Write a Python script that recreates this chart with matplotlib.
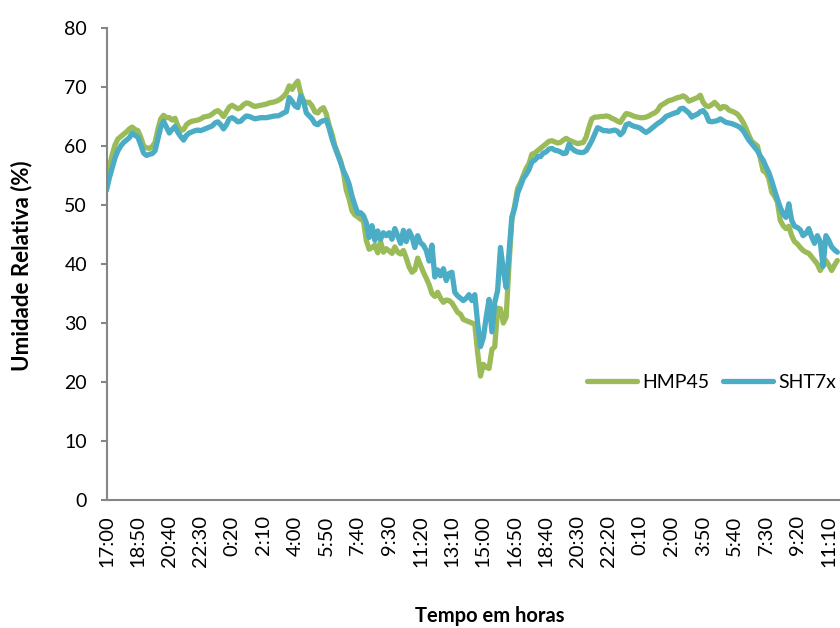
import matplotlib
matplotlib.use("Agg")
import matplotlib.pyplot as plt
import numpy as np

# readings every 10 min, starting 17:00
hmp45 = [
    54.0, 56.5, 58.5, 60.2, 61.2, 61.6, 62.0, 62.4, 62.9, 63.2, 62.8,
    62.6, 61.5, 60.0, 59.7, 59.6, 59.9, 60.6, 62.8, 64.6, 65.2, 64.8,
    64.8, 64.4, 64.7, 63.4, 62.6, 62.8, 63.6, 64.0, 64.2, 64.3, 64.4,
    64.6, 64.9, 65.0, 65.1, 65.4, 65.8, 66.0, 65.6, 65.0, 65.8, 66.6,
    66.9, 66.6, 66.3, 66.5, 67.0, 67.3, 67.2, 66.9, 66.7, 66.8, 66.9,
    67.0, 67.1, 67.3, 67.4, 67.5, 67.7, 68.0, 68.4, 69.0, 70.2, 69.6,
    70.4, 71.0, 69.0, 67.6, 67.4, 67.4, 66.8, 65.8, 65.6, 66.2, 66.5,
    65.4, 63.5, 62.0, 60.0, 58.8, 57.5, 55.5, 52.5, 51.0, 49.0, 48.3,
    48.0, 47.6, 47.3, 44.0, 42.5, 42.8, 43.2, 41.9, 43.8, 42.0, 42.6,
    42.2, 41.8, 42.9, 42.0, 41.7, 42.3, 41.0, 39.5, 38.6, 39.0, 41.0,
    39.8, 38.6, 37.6, 36.5, 35.0, 34.5, 35.2, 34.2, 33.5, 33.9, 33.8,
    33.4, 32.6, 31.8, 31.5, 30.6, 30.4, 30.2, 30.0, 29.8, 25.0, 21.0,
    23.0, 22.5, 22.3, 25.5, 26.0, 32.5, 32.4, 30.0, 31.0, 40.0, 47.5,
    50.0, 52.8, 53.8, 55.0, 56.2, 57.0, 58.6, 58.8, 59.2, 59.6, 60.0,
    60.4, 60.8, 60.9, 60.7, 60.5, 60.6, 61.0, 61.3, 61.0, 60.8, 60.6,
    60.4, 60.5, 60.6, 61.5, 63.2, 64.6, 64.9, 64.9, 65.0, 65.0, 65.1,
    65.0, 64.7, 64.5, 64.2, 64.0, 64.8, 65.5, 65.4, 65.2, 65.0, 64.9,
    64.8, 64.8, 64.9, 65.1, 65.4, 65.6, 66.0, 66.8, 67.1, 67.4, 67.7,
    67.8, 68.0, 68.2, 68.3, 68.5, 68.2, 67.6, 67.8, 68.0, 68.2, 68.6,
    67.4, 66.8, 66.7, 67.0, 67.4, 66.9, 66.3, 66.7, 66.6, 66.1, 65.9,
    65.7, 65.4, 64.8, 64.0, 63.0, 61.8, 60.8, 60.4, 60.0, 58.0, 55.8,
    55.5, 54.5, 52.2, 51.5, 50.5, 47.4, 46.5, 46.0, 46.4, 44.8, 43.8,
    43.4, 42.8, 42.3, 42.0, 41.8, 41.2, 40.6, 40.0, 38.9, 39.8, 40.6,
    39.8, 38.9, 39.8, 40.6,
]
sht7x = [
    52.5, 54.6, 56.3, 58.0, 59.2, 60.0, 60.6, 61.0, 61.4, 62.2, 61.8,
    61.5, 60.2, 58.8, 58.4, 58.6, 58.7, 59.2, 61.2, 63.2, 64.2, 63.2,
    62.2, 62.8, 63.3, 62.3, 61.6, 61.0, 61.8, 62.2, 62.4, 62.6, 62.7,
    62.6, 62.8, 63.0, 63.2, 63.4, 63.9, 64.1, 63.6, 62.9, 63.6, 64.6,
    64.8, 64.5, 64.1, 64.2, 64.7, 65.1, 65.0, 64.8, 64.6, 64.7, 64.8,
    64.8, 64.8, 64.9, 65.0, 65.1, 65.1, 65.3, 65.6, 65.8, 68.2, 67.6,
    66.8, 66.5, 68.5, 67.6, 65.6, 65.1, 64.6, 63.8, 63.6, 64.1, 64.3,
    64.4, 63.0, 61.2, 59.8, 58.5, 57.2, 55.8, 54.8, 53.5, 51.5, 50.0,
    48.6, 48.7, 48.2, 47.0, 44.5, 46.5, 44.0, 45.6, 44.2, 45.3, 44.8,
    45.3, 44.2, 46.0, 44.8, 43.5, 45.7, 43.8, 45.6, 44.6, 42.8, 44.8,
    43.6, 43.2, 42.3, 40.5, 43.2, 37.8, 39.0, 38.0, 39.2, 37.2, 38.4,
    38.6, 35.2, 34.6, 34.2, 33.8, 34.2, 34.8, 33.8, 34.8, 30.0, 26.0,
    27.5, 31.0, 34.0, 28.5, 33.5, 35.5, 42.8, 39.0, 36.0, 42.0, 48.0,
    49.5, 52.0, 53.2, 54.5, 55.2, 56.0, 57.3, 57.6, 58.2, 58.2, 58.8,
    59.0, 59.5, 59.6, 59.3, 59.2, 59.0, 58.7, 58.8, 60.3, 59.6, 59.2,
    59.0, 58.9, 58.9, 59.2, 60.0, 60.9, 62.0, 63.1, 62.9, 62.6, 62.6,
    62.5, 62.6, 62.7, 62.5, 61.9, 62.4, 63.6, 63.8, 63.5, 63.3, 63.2,
    63.0, 62.6, 62.3, 62.6, 63.0, 63.4, 63.8, 64.1, 64.5, 65.0, 65.2,
    65.4, 65.6, 65.7, 66.3, 66.4, 66.0, 65.6, 64.9, 65.2, 65.4, 65.8,
    66.0, 65.4, 64.2, 64.1, 64.2, 64.3, 64.6, 64.3, 64.0, 63.9, 63.8,
    63.6, 63.4, 63.1, 62.6, 61.8, 61.0, 60.4, 59.8, 59.2, 58.3, 57.6,
    56.5, 55.5, 54.1, 52.5, 51.0, 49.6, 48.5, 47.9, 50.2, 47.4, 46.4,
    46.2, 45.8, 44.8, 45.2, 46.0, 44.6, 43.5, 44.8, 43.8, 39.6, 44.8,
    44.0, 42.9, 42.4, 42.0,
]
tick_labels = [
    "17:00", "18:50", "20:40", "22:30", "0:20", "2:10", "4:00", "5:50",
    "7:40", "9:30", "11:20", "13:10", "15:00", "16:50", "18:40", "20:30",
    "22:20", "0:10", "2:00", "3:50", "5:40", "7:30", "9:20", "11:10",
]
label_step = 11

plt.rcParams["font.family"] = ["Lato", "DejaVu Sans"]

W, H = 840, 628
fig = plt.figure(figsize=(W / 100, H / 100), dpi=100)
# plot area runs past the right edge, as in the original
ax = fig.add_axes([106.5 / W, 128 / H, 733.7 / W, 472 / H])

x = np.arange(len(hmp45))
ax.plot(x, hmp45, color="#9BBB59", lw=3.8, solid_capstyle="round",
        solid_joinstyle="round", label="HMP45")
ax.plot(x, sht7x, color="#4BACC6", lw=3.8, solid_capstyle="round",
        solid_joinstyle="round", label="SHT7x")

ax.set_xlim(0, 257)
ax.set_ylim(0, 80)
ax.set_yticks(np.arange(0, 81, 10))
ax.set_xticks(x[::label_step][:len(tick_labels)])
ax.set_xticklabels(tick_labels, rotation=90)

for side in ("top", "right"):
    ax.spines[side].set_visible(False)
for side in ("left", "bottom"):
    ax.spines[side].set_color("#868686")
    ax.spines[side].set_linewidth(1.5)
ax.tick_params(axis="y", length=4, width=1.5, color="#868686", pad=10,
               labelsize=14)
ax.tick_params(axis="x", length=0, pad=11, labelsize=14.5)

fig.text(22 / W, 1 - 266 / H, "Umidade Relativa (%)", rotation=90,
         ha="center", va="center", fontsize=16, fontweight="bold")
fig.text(490 / W, 1 - 616 / H, "Tempo em horas", ha="center",
         va="center", fontsize=14.5, fontweight="bold")

fig.legend(loc="center right", bbox_to_anchor=(836 / W, 1 - 382 / H),
           ncol=2, frameon=False, fontsize=14, handlelength=2.6,
           handletextpad=0.25, columnspacing=0.7, borderpad=0,
           borderaxespad=0)

fig.savefig("out.png", dpi=100)
